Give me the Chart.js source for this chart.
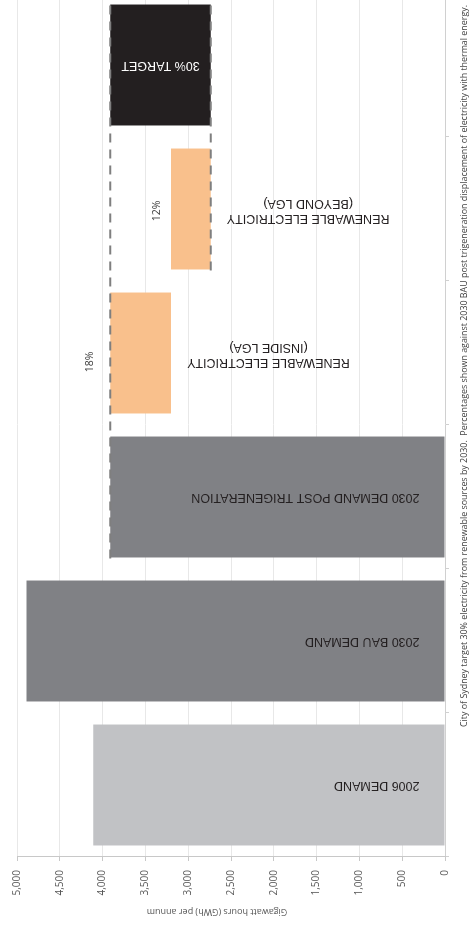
<!DOCTYPE html>
<html><head><meta charset="utf-8">
<script src="https://cdn.jsdelivr.net/npm/chart.js@4/dist/chart.umd.min.js"></script>
<style>
html,body{margin:0;padding:0;background:#fff;overflow:hidden;width:470px;height:931px;}
#rot{position:absolute;left:0;top:0;width:931px;height:470px;overflow:hidden;transform-origin:0 0;transform:translateY(931px) rotate(-90deg);background:#fff;}
#c{display:block;}
</style></head><body>
<div id="rot"><canvas id="c" width="939" height="470"></canvas></div>
<script>
// ---- data ----
const categories = [
  "2006 DEMAND",
  "2030 BAU DEMAND",
  "2030 DEMAND POST TRIGENERATION",
  ["RENEWABLE ELECTRICITY", "(INSIDE LGA)"],
  ["RENEWABLE ELECTRICITY", "(BEYOND LGA)"],
  "30% TARGET"
];
const barStart = [0, 0, 0, 3200, 2737, 2737];
const barEnd   = [4110, 4890, 3910, 3910, 3200, 3910];
const shareLabels = ["", "", "", "18%", "12%", ""];
const targetLines = [3910, 2737];       // dashed reference levels (GWh)
const targetLineFrom = [2, 4];          // category where each dashed line starts
const axisMin = 0, axisMax = 5000, axisStep = 500;
const axisTitle = "Gigawatt hours (GWh) per annum";
const caption = "City of Sydney target 30% electricity from renewable sources by 2030.  Percentages shown against 2030 BAU post trigeneration displacement of electricity with thermal energy.";

// ---- styles ----
const barColors = ["#c1c2c5", "#808185", "#808185", "#f9c08c", "#f9c08c", "#231f20"];
const labelPlacement = ["base", "base", "base", "below", "below", "center"];
const labelColors = ["#231f20", "#231f20", "#231f20", "#231f20", "#231f20", "#ffffff"];
const shareOffsets = [null, null, null, {dx: -9, dy: 20}, {dx: -2, dy: 14}, null];

Chart.defaults.font.family = "'Open Sans', sans-serif";

const annot = {
  id: 'annot',
  afterDatasetsDraw(chart) {
    const {ctx, chartArea, scales: {y}} = chart;
    const meta = chart.getDatasetMeta(0);
    ctx.save();
    // dashed target lines
    ctx.setLineDash([9, 7]);
    ctx.lineWidth = 2;
    ctx.strokeStyle = '#7f7f7f';
    targetLines.forEach((v, k) => {
      const bar = meta.data[targetLineFrom[k]];
      const py = y.getPixelForValue(v);
      ctx.beginPath();
      ctx.moveTo(bar.x - bar.width / 2 - 1, py);
      ctx.lineTo(chartArea.right + 10, py);
      ctx.stroke();
    });
    ctx.setLineDash([]);
    // bar labels
    const labelFont = "12.5px 'Liberation Sans', Arial, sans-serif";
    ctx.font = labelFont;
    ctx.textBaseline = 'middle';
    meta.data.forEach((bar, i) => {
      const lines = Array.isArray(categories[i]) ? categories[i] : [categories[i]];
      const lh = 15;
      ctx.fillStyle = labelColors[i];
      const top = Math.min(bar.y, bar.base), bottom = Math.max(bar.y, bar.base);
      const place = labelPlacement[i];
      ctx.save();
      if (place === 'base') {
        ctx.translate(bar.x, bottom - 25);
        ctx.rotate(-Math.PI / 2);
        ctx.textAlign = 'left';
        ctx.fillText(lines[0], 0, 0);
      } else if (place === 'center') {
        ctx.translate(bar.x, (top + bottom) / 2);
        ctx.rotate(-Math.PI / 2);
        ctx.textAlign = 'center';
        ctx.fillText(lines[0], 0, 0);
      } else {
        const w = Math.max(...lines.map(l => ctx.measureText(l).width));
        ctx.translate(bar.x - 2, bottom + 16 + w / 2);
        ctx.rotate(-Math.PI / 2);
        ctx.textAlign = 'center';
        lines.forEach((l, j) => ctx.fillText(l, 0, (j - (lines.length - 1) / 2) * lh));
      }
      ctx.restore();
      // share labels
      if (shareLabels[i]) {
        const o = shareOffsets[i];
        ctx.save();
        ctx.font = "10.5px 'Open Sans', sans-serif";
        ctx.fillStyle = '#3a3a3a';
        ctx.textAlign = 'center';
        ctx.fillText(shareLabels[i], bar.x + o.dx, top - o.dy);
        ctx.restore();
      }
    });
    ctx.restore();
  },
  afterDraw(chart) {
    const {ctx, chartArea} = chart;
    ctx.save();
    // axis title
    ctx.font = "9px 'Open Sans', sans-serif";
    ctx.fillStyle = '#595959';
    ctx.textAlign = 'center';
    ctx.textBaseline = 'middle';
    ctx.translate(19, (chartArea.top + chartArea.bottom) / 2 - 14);
    ctx.rotate(-Math.PI / 2);
    ctx.fillText(axisTitle, 0, 0);
    ctx.restore();
    // caption
    ctx.save();
    ctx.font = "9px 'Open Sans', sans-serif";
    ctx.fillStyle = '#404040';
    ctx.textAlign = 'left';
    ctx.textBaseline = 'middle';
    ctx.fillText(caption, 204, 464, 722);
    ctx.restore();
  }
};

new Chart(document.getElementById('c'), {
  type: 'bar',
  data: {
    labels: categories,
    datasets: [{
      data: barStart.map((s, i) => [s, barEnd[i]]),
      backgroundColor: barColors,
      borderWidth: 0,
      barPercentage: 0.84,
      categoryPercentage: 1
    }]
  },
  options: {
    responsive: false,
    animation: false,
    devicePixelRatio: 1,
    layout: {padding: {top: 17, right: 1, bottom: 0, left: 0}},
    plugins: {legend: {display: false}, tooltip: {enabled: false}},
    scales: {
      x: {
        ticks: {display: false},
        grid: {offset: true, drawOnChartArea: false, drawTicks: true, tickLength: 4, color: '#d0d0d0'},
        border: {color: '#d0d0d0'},
        afterFit(s) { s.height = 25; }
      },
      y: {
        min: axisMin, max: axisMax,
        ticks: {stepSize: axisStep, color: '#595959', font: {size: 10}, padding: 9},
        grid: {color: '#e8e8e8', tickLength: 4, tickColor: '#c8c8c8'},
        border: {color: '#c8c8c8'},
        afterFit(s) { s.width = 74; }
      }
    }
  },
  plugins: [annot]
});
</script>
</body></html>
